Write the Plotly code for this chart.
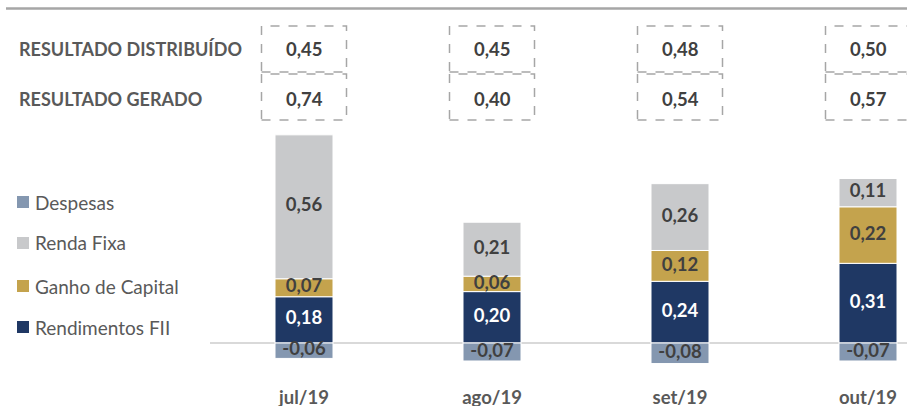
import plotly.graph_objects as go

# ---- data ----
months = ["jul/19", "ago/19", "set/19", "out/19"]
rendimentos_fii = [0.18, 0.20, 0.24, 0.31]
ganho_capital = [0.07, 0.06, 0.12, 0.22]
renda_fixa = [0.56, 0.21, 0.26, 0.11]
despesas = [-0.06, -0.07, -0.08, -0.07]
resultado_distribuido = [0.45, 0.45, 0.48, 0.50]
resultado_gerado = [0.74, 0.40, 0.54, 0.57]
row_labels = ["RESULTADO DISTRIBUÍDO", "RESULTADO GERADO"]
legend_names = ["Despesas", "Renda Fixa", "Ganho de Capital", "Rendimentos FII"]

# ---- style ----
W, H = 907, 406
MB = 30
PH = H - MB
C_DESP = "#8497B0"
C_RF = "#C8C9CB"
C_GC = "#C4A34D"
C_FII = "#1F3864"
FONT = "Lato"
TXT_DARK = "#404040"
TXT_GRAY = "#595959"

def fmt(v):
    return f"{v:.2f}".replace(".", ",")

def py(pix):  # pixel row -> paper y
    return (PH - pix) / PH

def pxx(pix):  # pixel col -> paper x
    return pix / W

x = list(range(len(months)))
bw = 58 / 188

fig = go.Figure()
series = [
    ("Rendimentos FII", rendimentos_fii, C_FII, "white"),
    ("Ganho de Capital", ganho_capital, C_GC, TXT_DARK),
    ("Renda Fixa", renda_fixa, C_RF, TXT_DARK),
    ("Despesas", despesas, C_DESP, TXT_DARK),
]
base_pos = [0.0] * len(months)
for name, vals, col, tcol in series:
    fig.add_trace(go.Bar(
        x=x, y=vals, name=name, width=bw,
        marker=dict(color=col, line=dict(color="white", width=1)),
        showlegend=False, hoverinfo="skip",
    ))
    mids = []
    for i, v in enumerate(vals):
        if v >= 0:
            mids.append(base_pos[i] + v / 2)
            base_pos[i] += v
        else:
            mids.append(v / 2)
    fig.add_trace(go.Scatter(
        x=x, y=mids, mode="text", text=[fmt(v) for v in vals],
        textfont=dict(family=FONT, size=18.5, color=tcol, weight="bold"),
        showlegend=False, hoverinfo="skip",
    ))

# top rule and zero line
fig.add_shape(type="line", xref="paper", yref="paper", x0=pxx(6), x1=1, y0=py(8.5), y1=py(8.5),
              line=dict(color="#A6A6A6", width=2.5))
fig.add_shape(type="line", xref="paper", yref="y", x0=pxx(210), x1=1, y0=0, y1=0,
              line=dict(color="#D9D9D9", width=2), layer="below")

# result boxes
half = 42.5 / 188
rows = [(resultado_distribuido, 26, 72, 49), (resultado_gerado, 74, 120, 99)]
for r, (vals, top, bot, cy) in enumerate(rows):
    fig.add_annotation(xref="paper", yref="paper", x=pxx(17), y=py(cy), text=row_labels[r],
                       showarrow=False, xanchor="left", yanchor="middle",
                       font=dict(family=FONT, size=18, color=TXT_GRAY, weight="bold"))
    for i, v in enumerate(vals):
        fig.add_shape(type="rect", xref="x", yref="paper", x0=i - half, x1=i + half,
                      y0=py(bot), y1=py(top),
                      line=dict(color="#A6A6A6", width=1.5, dash="dash"))
        fig.add_annotation(xref="x", yref="paper", x=i, y=py(cy), text=fmt(v),
                           showarrow=False, xanchor="center", yanchor="middle",
                           font=dict(family=FONT, size=18.5, color=TXT_DARK, weight="bold"))

# legend (manual)
leg_colors = [C_DESP, C_RF, C_GC, C_FII]
leg_y = [202, 243, 286, 327]
for name, col, yy in zip(legend_names, leg_colors, leg_y):
    fig.add_shape(type="rect", xref="paper", yref="paper", x0=pxx(17), x1=pxx(29),
                  y0=py(yy + 6), y1=py(yy - 6), line=dict(width=0), fillcolor=col)
    fig.add_annotation(xref="paper", yref="paper", x=pxx(33), y=py(yy), text=name,
                       showarrow=False, xanchor="left", yanchor="middle",
                       font=dict(family=FONT, size=19, color=TXT_GRAY))

fig.update_layout(
    width=W, height=H, barmode="relative",
    margin=dict(l=0, r=0, t=0, b=MB, autoexpand=False),
    paper_bgcolor="white", plot_bgcolor="white",
    xaxis=dict(range=[-304 / 188, (W - 304) / 188], tickvals=x, ticktext=months,
               showgrid=False, zeroline=False, showline=False, ticks="", automargin=False,
               ticklabelstandoff=8,
               tickfont=dict(family=FONT, size=18.5, color=TXT_GRAY, weight="bold")),
    yaxis=dict(range=[-(PH - 343) / 257, 343 / 257], visible=False, showgrid=False,
               zeroline=False, automargin=False),
)

fig.write_html("out.html", config={"displayModeBar": False},
               post_script="document.body.style.margin='0';document.body.style.overflow='hidden';")
